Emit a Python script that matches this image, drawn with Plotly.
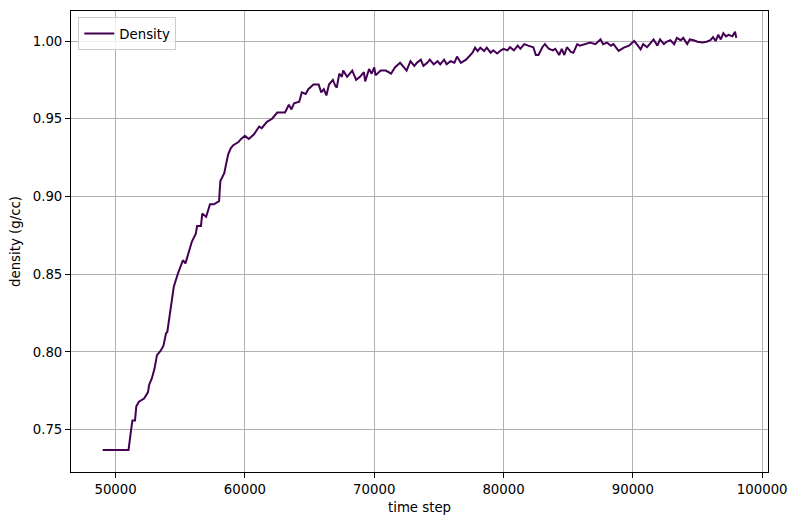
import plotly.graph_objects as go

# time step vs density (g/cc)
time_step = [
    49000, 51000, 51200, 51300, 51500, 51600, 51800, 52200, 52500, 52600,
    52800, 53000, 53200, 53500, 53700, 53900, 54000, 54200, 54400, 54500,
    54800, 55200, 55400, 55700, 55900, 56200, 56300, 56600, 56700, 57000,
    57300, 57600, 58000, 58100, 58400, 58700, 58900, 59100, 59500, 59700,
    60000, 60300, 60700, 61100, 61300, 61700, 62100, 62500, 62900, 63100,
    63400, 63600, 63800, 64200, 64400, 64700, 64900, 65300, 65700, 65900,
    66100, 66300, 66500, 66800, 67000, 67100, 67300, 67500, 67600, 67900,
    68300, 68600, 68900, 69200, 69300, 69600, 69800, 70000, 70100, 70500,
    70900, 71300, 71600, 72000, 72300, 72500, 72800, 73100, 73300, 73600,
    73800, 74100, 74300, 74600, 74900, 75100, 75400, 75600, 75900, 76200,
    76400, 76700, 77100, 77300, 77600, 77800, 78000, 78200, 78500, 78700,
    79000, 79200, 79500, 79800, 80000, 80300, 80500, 80800, 81100, 81300,
    81600, 81900, 82300, 82500, 82700, 83000, 83200, 83500, 83800, 84000,
    84300, 84500, 84700, 84900, 85200, 85400, 85700, 85900, 86300, 86700,
    87100, 87500, 87700, 88000, 88300, 88500, 88900, 89300, 89700, 90100,
    90300, 90600, 90800, 91100, 91400, 91600, 91900, 92100, 92400, 92600,
    92900, 93200, 93400, 93700, 93900, 94200, 94400, 94700, 95000, 95400,
    95700, 96000, 96200, 96400, 96600, 96800, 97000, 97200, 97400, 97700,
    97900, 98000,
]
density = [
    0.737, 0.737, 0.750, 0.756, 0.756, 0.765, 0.768, 0.770, 0.774, 0.779,
    0.783, 0.789, 0.798, 0.801, 0.804, 0.812, 0.813, 0.825, 0.835, 0.842,
    0.850, 0.859, 0.857, 0.865, 0.871, 0.876, 0.881, 0.881, 0.889, 0.887,
    0.895, 0.895, 0.897, 0.910, 0.915, 0.927, 0.931, 0.933, 0.935, 0.937,
    0.939, 0.937, 0.940, 0.945, 0.944, 0.948, 0.950, 0.954, 0.954, 0.954,
    0.959, 0.956, 0.960, 0.961, 0.967, 0.966, 0.969, 0.972, 0.972, 0.967,
    0.969, 0.965, 0.972, 0.975, 0.971, 0.970, 0.979, 0.977, 0.981, 0.977,
    0.981, 0.975, 0.977, 0.980, 0.974, 0.982, 0.979, 0.983, 0.978, 0.981,
    0.981, 0.979, 0.983, 0.986, 0.983, 0.981, 0.987, 0.984, 0.986, 0.988,
    0.984, 0.986, 0.988, 0.985, 0.987, 0.985, 0.988, 0.985, 0.987, 0.986,
    0.990, 0.986, 0.988, 0.990, 0.9925, 0.9957, 0.9935, 0.9957, 0.9935, 0.9957,
    0.9925, 0.994, 0.992, 0.994, 0.995, 0.994, 0.996, 0.994, 0.997, 0.995,
    0.998, 0.997, 0.996, 0.991, 0.991, 0.996, 0.998, 0.995, 0.994, 0.995,
    0.991, 0.995, 0.991, 0.996, 0.993, 0.9925, 0.998, 0.997, 0.998, 0.999,
    0.998, 1.001, 0.998, 0.999, 0.997, 0.998, 0.9936, 0.9957, 0.997, 1.000,
    0.998, 0.9947, 0.998, 0.996, 0.999, 1.001, 0.997, 1.001, 0.998, 0.9995,
    1.0005, 0.998, 1.002, 1.0005, 1.002, 0.998, 1.001, 1.0005, 0.9995, 0.999,
    0.9995, 1.0005, 1.0025, 1.000, 1.004, 1.001, 1.005, 1.003, 1.004, 1.003,
    1.006, 1.002,
]

FONT = "DejaVu Sans, sans-serif"

fig = go.Figure()
fig.add_trace(go.Scatter(
    x=time_step, y=density,
    mode="lines",
    line=dict(color="#440154", width=2),
    name="Density",
))

axis_common = dict(
    showline=True, mirror=True, linecolor="black", linewidth=1,
    ticks="outside", ticklen=5, tickcolor="black", tickwidth=1,
    showgrid=True, gridcolor="#b0b0b0", gridwidth=1,
    zeroline=False,
    tickfont=dict(family=FONT, size=13.3, color="black"),
)

# the page body adds an 8 px margin, so the figure is a bit smaller than the window
fig.update_layout(
    width=782, height=509,
    margin=dict(l=63, r=22, t=3, b=45),
    plot_bgcolor="white", paper_bgcolor="white",
    font=dict(family=FONT, size=13.3, color="black"),
    showlegend=True,
    legend=dict(
        x=0.0105, y=0.986, xanchor="left", yanchor="top",
        bgcolor="rgba(255,255,255,0.8)",
        bordercolor="#cccccc", borderwidth=1,
        itemwidth=30,
        font=dict(family=FONT, size=13.3),
    ),
    xaxis=dict(
        axis_common,
        range=[46550, 100450], dtick=10000, tick0=0, tickformat="d",
        title=dict(text="time step", font=dict(family=FONT, size=13.3), standoff=6),
    ),
    yaxis=dict(
        axis_common,
        range=[0.7228, 1.0193], dtick=0.05, tick0=0, tickformat=".2f",
        title=dict(text="density (g/cc)", font=dict(family=FONT, size=13.3), standoff=11),
    ),
)

fig.write_html("out.html")
